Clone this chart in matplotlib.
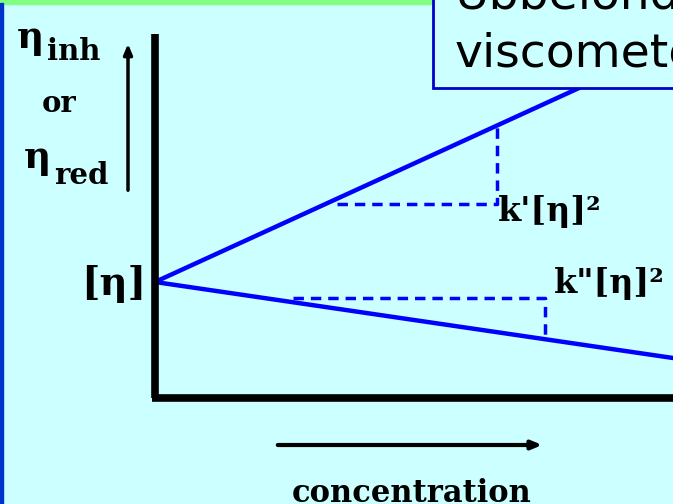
import matplotlib
matplotlib.use("Agg")
import matplotlib.pyplot as plt
from matplotlib.patches import Rectangle

# ---- data (arbitrary units; origin = axis corner) ----
conc = [0, 518]
eta_red = [116, 353]          # upper line (Huggins, slope k'[η]²)
eta_inh = [116, 40]           # lower line (Kraemer, slope k"[η]²)
upper_tri_x = [182, 342, 342]
upper_tri_y = [194, 194, 271]
lower_tri_x = [138, 390, 390]
lower_tri_y = [100, 100, 60]
label_intercept = "[η]"
label_k1 = "k'[η]²"
label_k2 = 'k"[η]²'
xlabel = "concentration"

BG = "#CCFFFF"
BLUE = "#0000FF"

fig = plt.figure(figsize=(6.73, 5.04), dpi=100)
fig.patch.set_facecolor(BG)
ax = fig.add_axes([0, 0, 1, 1])
ax.set_facecolor(BG)
ax.set_xlim(-155, 518)
ax.set_ylim(-106, 398)
ax.axis("off")

serif = dict(family="DejaVu Serif", fontweight="bold", color="black")

# frame decorations
ax.add_patch(Rectangle((-155, 394), 433, 6, color="#80FF80", zorder=5, clip_on=False))
ax.add_patch(Rectangle((-155, -110), 2.5, 505, color="#0033CC", zorder=5, clip_on=False))

# axes lines
ax.plot([0, 0], [0, 364], color="black", lw=5.5, solid_capstyle="butt", zorder=3)
ax.plot([-3, 520], [0, 0], color="black", lw=5.5, solid_capstyle="butt", zorder=3)

# data lines
ax.plot(conc, eta_red, color=BLUE, lw=3.2, zorder=2)
ax.plot(conc, eta_inh, color=BLUE, lw=3.2, zorder=2)
ax.plot(upper_tri_x, upper_tri_y, color=BLUE, lw=2.5, ls=(0, (3, 2)), zorder=2)
ax.plot(lower_tri_x, lower_tri_y, color=BLUE, lw=2.5, ls=(0, (3, 2)), zorder=2)

# labels
ax.text(-9, 114, label_intercept, ha="right", va="center", fontsize=28, **serif)
ax.text(343, 187, label_k1, ha="left", va="center", fontsize=24, **serif)
ax.text(399, 115, label_k2, ha="left", va="center", fontsize=24, **serif)

ax.text(-138, 360, "η", ha="left", va="center", fontsize=27, **serif)
ax.text(-108, 346, "inh", ha="left", va="center", fontsize=21, **serif)
ax.text(-96, 294, "or", ha="center", va="center", fontsize=21, **serif)
ax.text(-131, 240, "η", ha="left", va="center", fontsize=27, **serif)
ax.text(-101, 223, "red", ha="left", va="center", fontsize=21, **serif)

# y arrow
ax.annotate("", xy=(-27, 357), xytext=(-27, 205),
            arrowprops=dict(arrowstyle="-|>,head_length=0.6,head_width=0.25", color="black", lw=2.5))
# x arrow
ax.annotate("", xy=(390, -47), xytext=(120, -47),
            arrowprops=dict(arrowstyle="-|>,head_length=0.6,head_width=0.25", color="black", lw=3))
ax.text(257, -96, xlabel, ha="center", va="center", fontsize=22, **serif)

# text box
ax.add_patch(Rectangle((278, 310), 260, 100, facecolor=BG, edgecolor="#0000CC", lw=2, zorder=6, clip_on=False))
ax.text(300, 402, "Ubbelohde", ha="left", va="center", fontsize=34, family="DejaVu Sans", zorder=7)
ax.text(300, 344, "viscometer", ha="left", va="center", fontsize=34, family="DejaVu Sans", zorder=7)

fig.savefig("out.png", dpi=100, facecolor=BG)
